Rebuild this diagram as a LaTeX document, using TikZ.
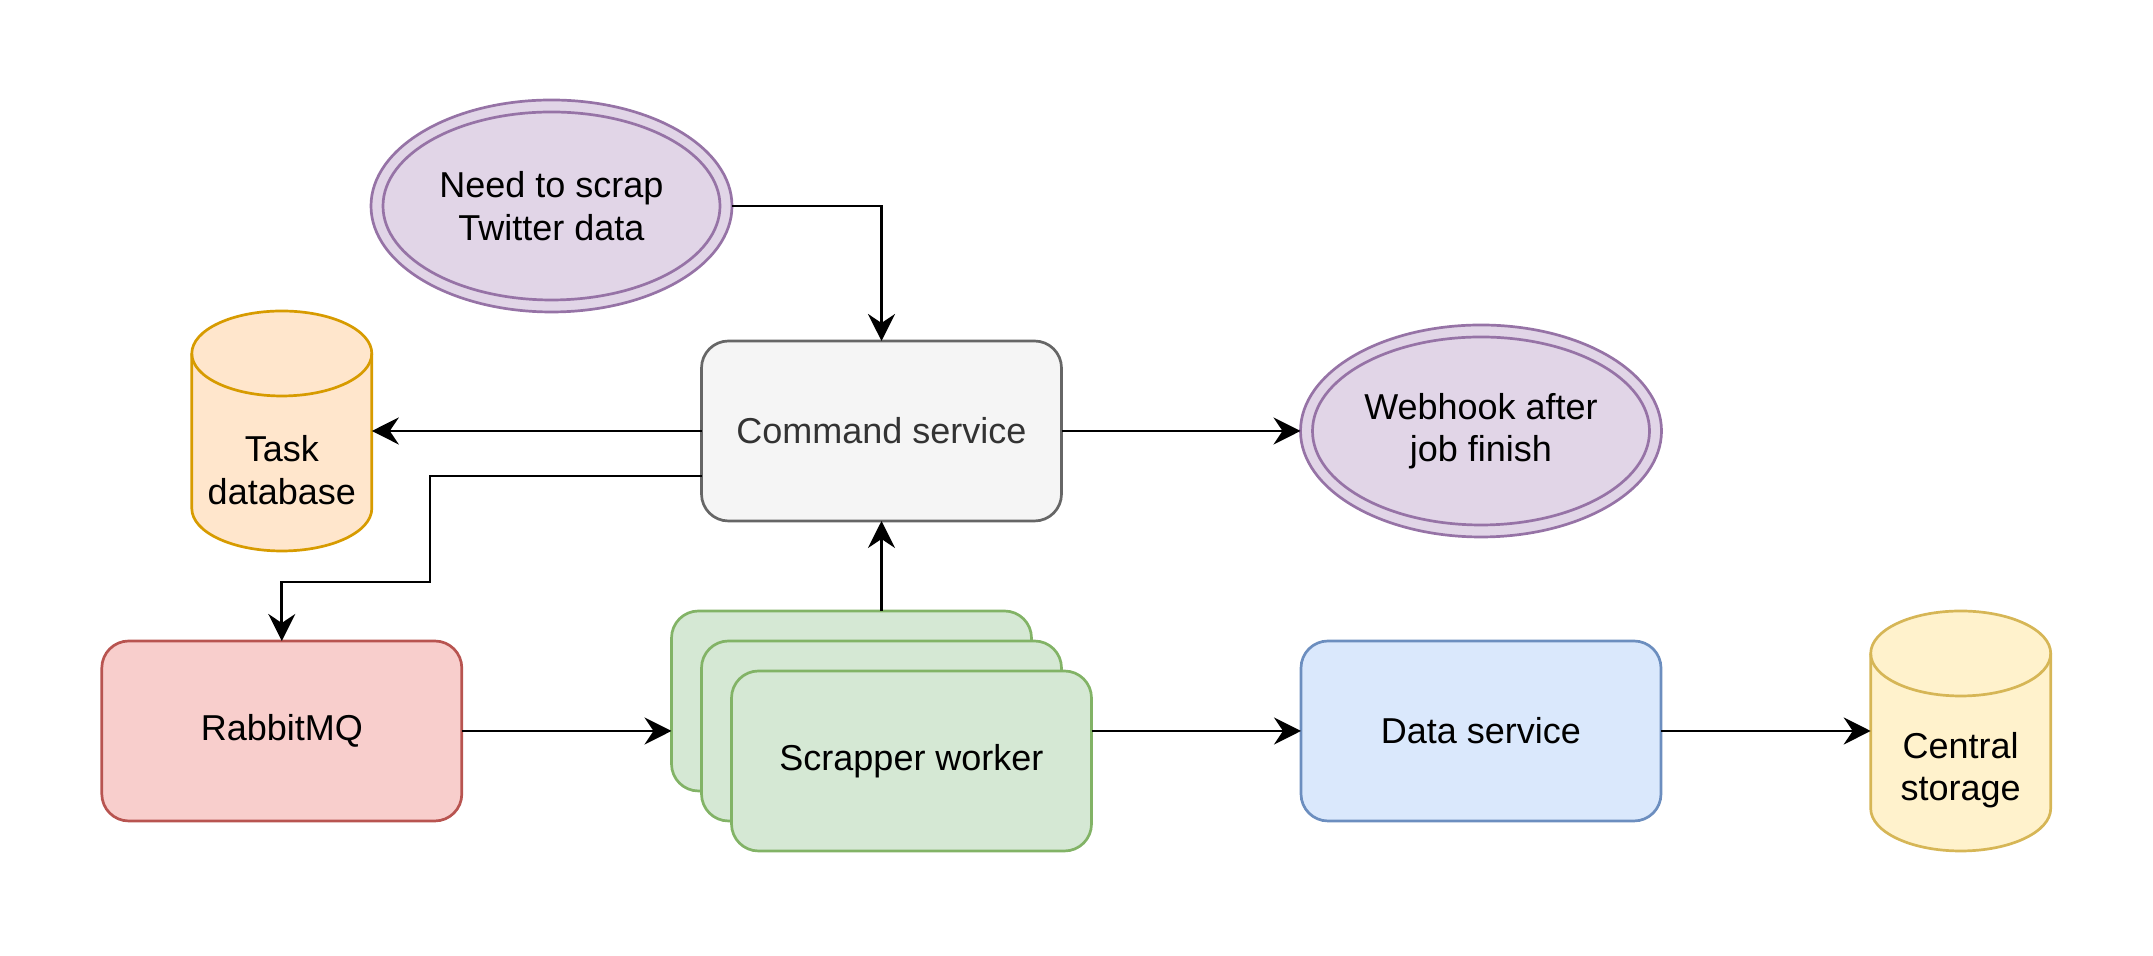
\documentclass[tikz,border=0pt]{standalone}
\usepackage{fontspec}
\setmainfont{Liberation Sans}
\usetikzlibrary{arrows.meta,calc,shapes.geometric}
\definecolor{purF}{HTML}{E1D5E7}
\definecolor{purS}{HTML}{9673A6}
\definecolor{orF}{HTML}{FFE6CC}
\definecolor{orS}{HTML}{D79B00}
\definecolor{gyF}{HTML}{F5F5F5}
\definecolor{gyS}{HTML}{666666}
\definecolor{gyT}{HTML}{333333}
\definecolor{rdF}{HTML}{F8CECC}
\definecolor{rdS}{HTML}{B85450}
\definecolor{gnF}{HTML}{D5E8D4}
\definecolor{gnS}{HTML}{82B366}
\definecolor{blF}{HTML}{DAE8FC}
\definecolor{blS}{HTML}{6C8EBF}
\definecolor{ylF}{HTML}{FFF2CC}
\definecolor{ylS}{HTML}{D6B656}
\begin{document}
\begin{tikzpicture}[x=1pt,y=1pt,
  txt/.style={font=\fontsize{18}{21.2}\selectfont, align=center},
  box/.style={txt, rectangle, rounded corners=13.5pt, minimum width=180pt, minimum height=90pt, line width=1.35pt, inner sep=0pt, outer sep=0pt},
  oval/.style={txt, ellipse, draw=purS, fill=purF, line width=1.35pt, minimum width=180.5pt, minimum height=106pt, inner sep=0pt, outer sep=0pt},
  inner oval/.style={draw=purS, line width=1.35pt},
  anchorbox/.style={rectangle, minimum width=90pt, minimum height=120pt, inner sep=0pt, outer sep=0pt},
  arr/.style={line width=1.35pt, -{Stealth[length=13.5pt,width=13.5pt,inset=4.5pt]}}
]
\useasboundingbox (0,0) rectangle (1076.5,478);

% nodes
\node[oval] (need) at (275.75,375) {};
\draw[inner oval] (need.center) ellipse [x radius=84.25, y radius=47];
\node[txt] (needt) at (need.center) {Need to scrap\\Twitter data};

\node[box, draw=gyS, fill=gyF, text=gyT] (cmd) at (440.75,262.5) {Command service};

\node[oval] (web) at (740.5,262.5) {};
\draw[inner oval] (web.center) ellipse [x radius=84.25, y radius=47];
\node[txt] (webt) at (web.center) {Webhook after\\job finish};

\node[anchorbox] (tdb) at (140.9,262.5) {};
\draw[draw=orS, fill=orF, line width=1.35pt]
  ($(tdb.north west)+(0,-21.25)$) -- ($(tdb.south west)+(0,21.25)$)
  arc[start angle=180, end angle=360, x radius=45, y radius=21.25]
  -- ($(tdb.north east)+(0,-21.25)$)
  arc[start angle=0, end angle=180, x radius=45, y radius=21.25] -- cycle;
\draw[draw=orS, line width=1.35pt] ($(tdb.north west)+(0,-21.25)$)
  arc[start angle=180, end angle=360, x radius=45, y radius=21.25];
\node[txt] (tdbt) at ($(tdb.center)+(0,-19.5)$) {Task\\database};

\node[box, draw=rdS, fill=rdF] (rmq) at (140.9,112.5) {RabbitMQ};

\node[box, draw=gnS, fill=gnF] (back) at (425.75,127.5) {};
\node[box, draw=gnS, fill=gnF] (mid) at (440.75,112.5) {};
\node[box, draw=gnS, fill=gnF] (front) at (455.75,97.5) {Scrapper worker};

\node[box, draw=blS, fill=blF] (ds) at (740.5,112.5) {Data service};

\node[anchorbox] (cs) at (980.35,112.5) {};
\draw[draw=ylS, fill=ylF, line width=1.35pt]
  ($(cs.north west)+(0,-21.25)$) -- ($(cs.south west)+(0,21.25)$)
  arc[start angle=180, end angle=360, x radius=45, y radius=21.25]
  -- ($(cs.north east)+(0,-21.25)$)
  arc[start angle=0, end angle=180, x radius=45, y radius=21.25] -- cycle;
\draw[draw=ylS, line width=1.35pt] ($(cs.north west)+(0,-21.25)$)
  arc[start angle=180, end angle=360, x radius=45, y radius=21.25];
\node[txt] (cst) at ($(cs.center)+(0,-19.5)$) {Central\\storage};

% connectors
\coordinate (c1) at (215,240);
\coordinate (c2) at (215,187);
\draw[arr] (need.east) -| (cmd.north);
\draw[arr] (cmd.west) -- (tdb.east);
\draw[arr] (cmd.west |- c1) -- (c1) -- (c2) -| (rmq.north);
\draw[arr] (cmd.east) -- (web.west);
\draw[arr] (back.north -| cmd.south) -- (cmd.south);
\draw[arr] (rmq.east) -- (rmq.east -| back.west);
\draw[arr] (front.east |- ds.west) -- (ds.west);
\draw[arr] (ds.east) -- (cs.west);
\end{tikzpicture}
\end{document}
